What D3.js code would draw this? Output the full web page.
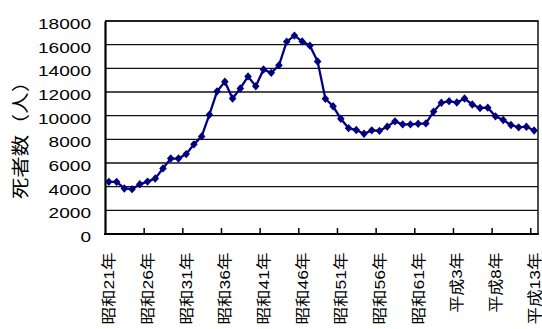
<!DOCTYPE html>
<html lang="ja">
<head>
<meta charset="utf-8">
<script src="https://cdn.jsdelivr.net/npm/d3@7"></script>
<style>
  html, body { margin: 0; padding: 0; background: #fff; }
  svg { display: block; }
  text { font-family: "Liberation Sans", Arial, "Noto Sans CJK JP", sans-serif; fill: #000; }
</style>
</head>
<body>
<svg id="chart" width="542" height="329"></svg>
<script>
// 交通事故死者数（昭和21年〜平成13年）
const years = d3.range(1946, 2002);
const deaths = [
  4409, 4408, 3848, 3790, 4202, 4429, 4696, 5544, 6374, 6379,
  6751, 7575, 8248, 10079, 12055, 12865, 11445, 12301, 13318, 12484,
  13904, 13618, 14256, 16257, 16765, 16278, 15918, 14574, 11432, 10792,
  9734, 8945, 8783, 8466, 8760, 8719, 9073, 9520, 9262, 9261,
  9317, 9347, 10344, 11086, 11227, 11109, 11451, 10942, 10649, 10679,
  9942, 9640, 9211, 9012, 9066, 8747
];
const yTicks = [0, 2000, 4000, 6000, 8000, 10000, 12000, 14000, 16000, 18000];
const xTickLabels = [
  "昭和21年", "昭和26年", "昭和31年", "昭和36年", "昭和41年", "昭和46年",
  "昭和51年", "昭和56年", "昭和61年", "平成3年", "平成8年", "平成13年"
];
const yTitle = "死者数（人）";

const svg = d3.select("#chart");
const plotLeft = 105, plotRight = 538, plotTop = 21, plotBottom = 234;

const idx = d3.range(years.length);
const x = d3.scaleBand().domain(idx).range([plotLeft, plotRight]).padding(0);
const xEdge = d3.scaleLinear().domain([0, years.length]).range([plotLeft, plotRight]);
const y = d3.scaleLinear().domain([0, 18000]).range([plotBottom, plotTop]);
const cx = i => x(i) + x.bandwidth() / 2;

// horizontal gridlines
svg.append("g")
  .selectAll("line")
  .data(yTicks.filter(v => v > 0))
  .join("line")
  .attr("x1", plotLeft).attr("x2", plotRight)
  .attr("y1", d => y(d)).attr("y2", d => y(d))
  .attr("stroke", "#111").attr("stroke-width", 1.3);

// plot frame
svg.append("line").attr("x1", plotRight).attr("x2", plotRight).attr("y1", plotTop).attr("y2", plotBottom)
  .attr("stroke", "#111").attr("stroke-width", 1.5);

// y axis
const yAxis = svg.append("g")
  .attr("transform", `translate(${plotLeft},0)`)
  .call(d3.axisLeft(y).tickValues(yTicks).tickSize(0).tickPadding(14).tickFormat(d3.format("d")));
yAxis.select(".domain").attr("stroke", "#000").attr("stroke-width", 2.2);
yAxis.selectAll("text")
  .attr("font-size", 15)
  .attr("dy", "0.5em")
  .attr("textLength", function () { return this.textContent.length * 10.6; })
  .attr("lengthAdjust", "spacingAndGlyphs");

// x axis: inner tick marks every five years
const xTicks = svg.append("g")
  .attr("transform", `translate(0,${plotBottom})`)
  .call(d3.axisBottom(xEdge).tickValues(d3.range(5, years.length, 5)).tickSize(-6).tickFormat(""));
xTicks.select(".domain").remove();
xTicks.selectAll("line").attr("stroke", "#000").attr("stroke-width", 1.5);

svg.append("line").attr("x1", plotLeft - 1).attr("x2", plotRight + 0.75).attr("y1", plotBottom).attr("y2", plotBottom)
  .attr("stroke", "#000").attr("stroke-width", 2.2);
svg.append("line").attr("x1", plotLeft).attr("x2", plotRight + 0.75).attr("y1", plotTop).attr("y2", plotTop)
  .attr("stroke", "#111").attr("stroke-width", 1.5);

// x axis: rotated year labels
const labelIdx = d3.range(0, years.length, 5);
const xAxis = svg.append("g")
  .attr("transform", `translate(0,${plotBottom})`)
  .call(d3.axisBottom(x).tickValues(labelIdx).tickSize(0)
    .tickFormat((d, i) => xTickLabels[i]));
xAxis.select(".domain").remove();
xAxis.selectAll("text")
  .attr("font-size", 15)
  .attr("text-anchor", "end")
  .attr("x", 0).attr("y", 0).attr("dy", "0.36em")
  .attr("transform", "translate(0,18.5) rotate(-90)")
  .attr("textLength", function () {
    const s = this.textContent;
    const digits = (s.match(/[0-9]/g) || []).length;
    return (s.length - digits) * 16 + digits * 12;
  })
  .attr("lengthAdjust", "spacingAndGlyphs");

// y axis title
svg.append("text")
  .attr("transform", "translate(27,135) rotate(-90)")
  .attr("text-anchor", "middle")
  .attr("font-size", 18)
  .attr("textLength", 128)
  .attr("lengthAdjust", "spacingAndGlyphs")
  .style("font-family", '"Noto Sans CJK JP", sans-serif')
  .text(yTitle);

// series line
const line = d3.line().x((d, i) => cx(i)).y(d => y(d));
svg.append("path")
  .datum(deaths)
  .attr("d", line)
  .attr("fill", "none")
  .attr("stroke", "#000080")
  .attr("stroke-width", 2.3);

// diamond markers
svg.append("g")
  .selectAll("path")
  .data(deaths)
  .join("path")
  .attr("transform", (d, i) => `translate(${cx(i)},${y(d)})`)
  .attr("d", "M0,-4.2L3.8,0L0,4.2L-3.8,0Z")
  .attr("fill", "#000080");
</script>
</body>
</html>
